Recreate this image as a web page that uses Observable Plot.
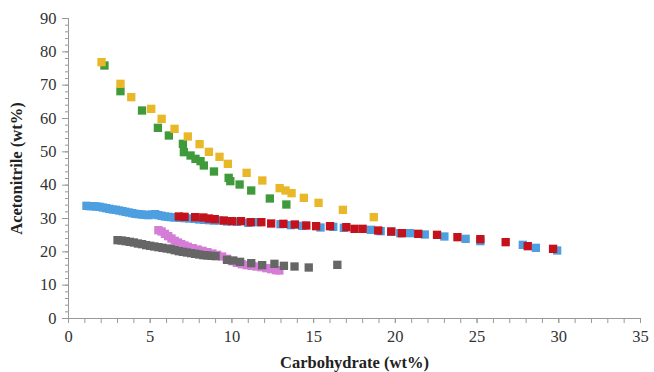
<!DOCTYPE html>
<html>
<head>
<meta charset="utf-8">
<script src="https://cdn.jsdelivr.net/npm/d3@7"></script>
<script src="https://cdn.jsdelivr.net/npm/@observablehq/plot@0.6"></script>
<style>
  html, body { margin: 0; padding: 0; background: #fff; }
  #chart svg { display: block; }
  g[aria-label="x-axis label"] text, g[aria-label="y-axis label"] text { font-weight: bold; fill: #222; }
</style>
</head>
<body>
<div id="chart"></div>
<script>
// Series: [carbohydrate wt%, acetonitrile wt%]
const yellowSeries = [[2.02,76.9],[3.18,70.4],[3.84,66.4],[5.06,62.9],[5.7,59.9],[6.49,56.9],[7.3,54.6],[8.02,52.3],[8.59,50.0],[9.24,48.5],[9.75,46.4],[10.9,43.7],[11.86,41.4],[12.92,39.1],[13.28,38.4],[13.65,37.6],[14.4,36.2],[15.3,34.7],[16.79,32.6],[18.68,30.4]];
const greenSeries = [[2.2,75.9],[3.18,68.2],[4.5,62.4],[5.47,57.2],[6.14,54.9],[7.0,52.4],[7.06,49.9],[7.47,48.9],[7.77,47.9],[8.08,47.2],[8.28,45.9],[8.9,44.1],[9.8,42.2],[9.9,41.2],[10.47,40.2],[11.18,38.4],[12.32,36.0],[13.33,34.2]];
const blueSeries = [[1.1,33.8],[1.3,33.7],[1.5,33.7],[1.7,33.6],[1.9,33.5],[2.1,33.3],[2.3,33.1],[2.5,32.9],[2.7,32.7],[2.9,32.6],[3.1,32.4],[3.3,32.2],[3.5,32.0],[3.7,31.8],[3.9,31.6],[4.1,31.4],[4.3,31.3],[4.5,31.2],[4.7,31.1],[4.9,31.0],[5.1,31.2],[5.3,31.3],[5.5,31.0],[5.7,30.8],[5.9,30.6],[6.1,30.5],[6.3,30.4],[6.5,30.3],[6.8,30.2],[7.1,30.1],[7.4,30.0],[7.7,29.9],[8.0,29.7],[8.3,29.6],[8.6,29.5],[8.9,29.4],[9.2,29.4],[9.7,29.1],[10.3,29.0],[11.0,28.7],[11.55,28.9],[12.97,28.3],[13.6,28.0],[14.3,27.8],[15.42,27.3],[16.2,27.5],[16.85,27.2],[18.5,26.6],[19.1,26.2],[19.75,26.0],[20.3,25.6],[20.9,25.6],[21.8,25.2],[23.0,24.6],[24.3,23.9],[25.2,23.2],[27.8,22.1],[28.6,21.2],[29.9,20.4]];
const redSeries = [[6.75,30.6],[7.1,30.5],[7.75,30.4],[8.25,30.3],[8.6,30.0],[8.95,29.8],[9.5,29.4],[10.0,29.2],[10.55,29.2],[11.15,28.9],[11.8,28.9],[12.4,28.5],[13.15,28.4],[13.85,28.2],[14.55,27.9],[15.15,27.7],[16.0,27.7],[17.0,27.4],[17.5,26.9],[18.0,26.9],[18.95,26.4],[19.75,26.1],[20.4,25.6],[21.4,25.4],[22.55,25.1],[23.8,24.4],[25.2,23.8],[26.75,22.9],[28.1,21.7],[29.65,20.9]];
const pinkSeries = [[5.5,26.5],[5.7,26.1],[5.9,25.4],[6.1,24.7],[6.3,24.0],[6.5,23.3],[6.7,22.8],[6.9,22.3],[7.1,21.9],[7.3,21.5],[7.6,21.1],[7.9,20.7],[8.2,20.3],[8.5,19.9],[8.8,19.5],[9.1,19.1],[9.4,18.6],[9.7,17.9],[10.0,17.2],[10.3,16.7],[10.6,16.3],[10.9,16.0],[11.2,15.8],[11.5,15.6],[11.8,15.4],[12.1,15.1],[12.4,14.8],[12.7,14.5],[12.9,14.4]];
const graySeries = [[3.0,23.5],[3.25,23.4],[3.5,23.2],[3.75,23.0],[4.0,22.8],[4.25,22.5],[4.5,22.3],[4.75,22.0],[5.0,21.8],[5.25,21.6],[5.5,21.4],[5.75,21.2],[6.0,21.0],[6.25,20.8],[6.5,20.5],[6.75,20.2],[7.0,20.0],[7.25,19.8],[7.5,19.6],[7.75,19.4],[8.0,19.2],[8.25,19.0],[8.5,18.9],[8.75,18.8],[9.0,18.7],[9.7,17.6],[10.08,17.4],[10.5,17.0],[11.18,16.6],[11.85,16.0],[12.6,16.4],[13.18,15.8],[13.83,15.6],[14.7,15.3],[16.45,16.1]];

const xMajor = [0,5,10,15,20,25,30,35];
const yMajor = [0,10,20,30,40,50,60,70,80,90];
const xMinor = d3.range(0, 36, 1);
const yMinor = d3.range(0, 91, 2);

const colors = {yellow:"#E9B829", green:"#3F9A3B", blue:"#4E9FE0", red:"#C3121C", pink:"#D47DD6", gray:"#666666"};
const sq = (data, color) => Plot.dot(data, {x: d => d[0], y: d => d[1], symbol: "square", r: 4.7, fill: color, stroke: "none"});

const chart = Plot.plot({
  width: 654,
  height: 372,
  marginLeft: 68,
  marginRight: 14,
  marginTop: 18,
  marginBottom: 54,
  style: {fontFamily: "Liberation Serif", fontSize: "16.5px", color: "#333", background: "#fff"},
  x: {domain: [0, 35]},
  y: {domain: [0, 90]},
  marks: [
    Plot.axisX({ticks: xMinor, tickSize: 5, text: null, label: null, stroke: "#999"}),
    Plot.axisY({ticks: yMinor, tickSize: 3, text: null, label: null, stroke: "#999"}),
    Plot.axisX({ticks: xMajor, tickSize: 5, tickPadding: 7, stroke: "#999", label: "Carbohydrate (wt%)", labelAnchor: "center", labelOffset: 49, labelArrow: "none"}),
    Plot.axisY({ticks: yMajor, tickSize: 6, tickPadding: 6, stroke: "#999", label: "Acetonitrile (wt%)", labelAnchor: "center", labelOffset: 58, labelArrow: "none"}),
    Plot.ruleX([0], {stroke: "#999"}),
    Plot.ruleY([0], {stroke: "#999"}),
    sq(blueSeries, colors.blue),
    sq(redSeries, colors.red),
    sq(pinkSeries, colors.pink),
    sq(graySeries, colors.gray),
    sq(greenSeries, colors.green),
    sq(yellowSeries, colors.yellow)
  ]
});
document.getElementById("chart").appendChild(chart);
</script>
</body>
</html>
